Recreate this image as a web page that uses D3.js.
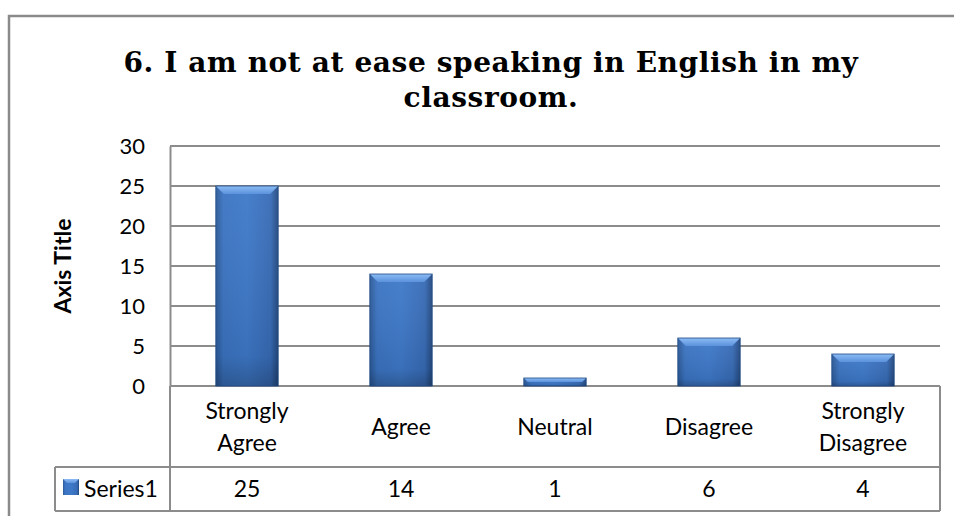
<!DOCTYPE html>
<html>
<head>
<meta charset="utf-8">
<script src="https://cdn.jsdelivr.net/npm/d3@7"></script>
<style>
  html, body { margin: 0; padding: 0; background: #ffffff; }
  svg { display: block; }
</style>
</head>
<body>
<svg id="chart" width="954" height="516"></svg>
<script>
// Survey responses for statement 6
const titleLines = ["6. I am not at ease speaking in English in my", "classroom."];
const categories = [["Strongly", "Agree"], ["Agree"], ["Neutral"], ["Disagree"], ["Strongly", "Disagree"]];
const seriesName = "Series1";
const values = [25, 14, 1, 6, 4];
const yTicks = [0, 5, 10, 15, 20, 25, 30];
const yAxisTitle = "Axis Title";

const svg = d3.select("#chart");
const W = 954, H = 516;
const plot = { left: 170, right: 940, top: 146, bottom: 386 };
const table = { left: 55, labelBottom: 467, bottom: 511 };
const gridColor = "#8c8c8c";
const sansFont = "Lato, 'Open Sans', sans-serif";
const labelSize = 23;

// gradients for the bevelled bars
const defs = svg.append("defs");
const body = defs.append("linearGradient").attr("id", "barBody").attr("x1", 0).attr("x2", 1).attr("y1", 0).attr("y2", 0);
body.append("stop").attr("offset", "0%").attr("stop-color", "#2b5896");
body.append("stop").attr("offset", "12%").attr("stop-color", "#3b74c2");
body.append("stop").attr("offset", "50%").attr("stop-color", "#3e79c9");
body.append("stop").attr("offset", "88%").attr("stop-color", "#376bb6");
body.append("stop").attr("offset", "100%").attr("stop-color", "#23497f");
const shade = defs.append("linearGradient").attr("id", "barShade").attr("x1", 0).attr("x2", 0).attr("y1", 0).attr("y2", 1);
shade.append("stop").attr("offset", "0%").attr("stop-color", "#ffffff").attr("stop-opacity", 0.05);
shade.append("stop").attr("offset", "85%").attr("stop-color", "#000000").attr("stop-opacity", 0.08);
shade.append("stop").attr("offset", "100%").attr("stop-color", "#000000").attr("stop-opacity", 0.25);
const bevel = defs.append("linearGradient").attr("id", "barTop").attr("x1", 0).attr("x2", 0).attr("y1", 0).attr("y2", 1);
bevel.append("stop").attr("offset", "0%").attr("stop-color", "#8dbcf5");
bevel.append("stop").attr("offset", "100%").attr("stop-color", "#5b92dc");

// outer chart frame
svg.append("path")
  .attr("d", `M9,${H} L9,16 L${W},16`)
  .attr("fill", "none").attr("stroke", "#8a8a8a").attr("stroke-width", 2.5);

// title
svg.append("g").selectAll("text").data(titleLines).join("text")
  .attr("x", 491).attr("y", (d, i) => 72 + i * 35)
  .attr("text-anchor", "middle")
  .attr("font-family", "'DejaVu Serif', serif").attr("font-weight", "bold")
  .attr("font-size", 28).attr("letter-spacing", 0.6).attr("fill", "#000")
  .text(d => d);

// scales
const x = d3.scaleBand().domain(d3.range(categories.length)).range([plot.left, plot.right]).paddingInner(0).paddingOuter(0);
const y = d3.scaleLinear().domain([0, 30]).range([plot.bottom, plot.top]);
const barW = x.bandwidth() * 0.405;

// gridlines
svg.append("g").selectAll("line").data(yTicks).join("line")
  .attr("x1", plot.left).attr("x2", plot.right)
  .attr("y1", d => y(d)).attr("y2", d => y(d))
  .attr("stroke", gridColor).attr("stroke-width", 2);

// y axis
const yAxis = d3.axisLeft(y).tickValues(yTicks).tickSize(0).tickPadding(25);
const yg = svg.append("g").attr("transform", `translate(${plot.left},0)`).call(yAxis);
yg.select(".domain").attr("stroke", gridColor).attr("stroke-width", 2);
yg.selectAll("text").attr("font-family", sansFont).attr("font-size", 22).attr("fill", "#000");

svg.append("text")
  .attr("transform", `translate(71,${(plot.top + plot.bottom) / 2}) rotate(-90)`)
  .attr("text-anchor", "middle")
  .attr("font-family", sansFont).attr("font-weight", "bold").attr("font-size", 23)
  .text(yAxisTitle);

// bars
const bars = svg.append("g").selectAll("g").data(values).join("g")
  .attr("transform", (d, i) => `translate(${x(i) + (x.bandwidth() - barW) / 2},0)`);
bars.append("rect")
  .attr("x", 0).attr("width", barW)
  .attr("y", d => y(d)).attr("height", d => y(0) - y(d))
  .attr("fill", "url(#barBody)");
bars.append("rect")
  .attr("x", 0).attr("width", barW)
  .attr("y", d => y(d)).attr("height", d => y(0) - y(d))
  .attr("fill", "url(#barShade)");
bars.append("path")
  .attr("d", d => {
    const t = y(d), b = Math.min(8, (y(0) - y(d)) / 2);
    return `M0,${t} L${barW},${t} L${barW - b},${t + b} L${b},${t + b} Z`;
  })
  .attr("fill", "url(#barTop)");
bars.append("rect")
  .attr("x", 0).attr("width", barW)
  .attr("y", d => y(d)).attr("height", d => y(0) - y(d))
  .attr("fill", "none").attr("stroke", "#1f4a85").attr("stroke-width", 0.8);

// data table
const tg = svg.append("g").attr("fill", "none").attr("stroke", gridColor).attr("stroke-width", 2);
tg.append("line").attr("x1", plot.left).attr("x2", plot.left).attr("y1", plot.bottom).attr("y2", table.bottom);
tg.append("line").attr("x1", plot.right).attr("x2", plot.right).attr("y1", plot.bottom).attr("y2", table.bottom);
tg.append("line").attr("x1", table.left).attr("x2", plot.right).attr("y1", table.labelBottom).attr("y2", table.labelBottom);
tg.append("line").attr("x1", table.left).attr("x2", plot.right).attr("y1", table.bottom).attr("y2", table.bottom);
tg.append("line").attr("x1", table.left).attr("x2", table.left).attr("y1", table.labelBottom).attr("y2", table.bottom);

// category labels
const labelMid = (plot.bottom + table.labelBottom) / 2;
svg.append("g").selectAll("text").data(categories).join("text")
  .attr("x", (d, i) => x(i) + x.bandwidth() / 2)
  .attr("text-anchor", "middle")
  .attr("font-family", sansFont).attr("font-size", labelSize).attr("fill", "#000")
  .each(function(d) {
    const t = d3.select(this);
    const lh = 32;
    const y0 = labelMid - (d.length - 1) * lh / 2 + 8;
    d.forEach((s, k) => t.append("tspan").attr("x", t.attr("x")).attr("y", y0 + k * lh).text(s));
  });

// value row
const rowMid = (table.labelBottom + table.bottom) / 2;
svg.append("g").selectAll("text").data(values).join("text")
  .attr("x", (d, i) => x(i) + x.bandwidth() / 2).attr("y", rowMid + 8)
  .attr("text-anchor", "middle")
  .attr("font-family", sansFont).attr("font-size", labelSize).attr("fill", "#000")
  .text(d => d);

// legend key and series name
svg.append("rect").attr("x", 63).attr("y", 479).attr("width", 16).attr("height", 16)
  .attr("fill", "url(#barBody)");
svg.append("path").attr("d", "M63,479 L79,479 L75,483 L67,483 Z").attr("fill", "url(#barTop)");
svg.append("text").attr("x", 84).attr("y", rowMid + 8)
  .attr("font-family", sansFont).attr("font-size", labelSize).attr("fill", "#000")
  .text(seriesName);
</script>
</body>
</html>
